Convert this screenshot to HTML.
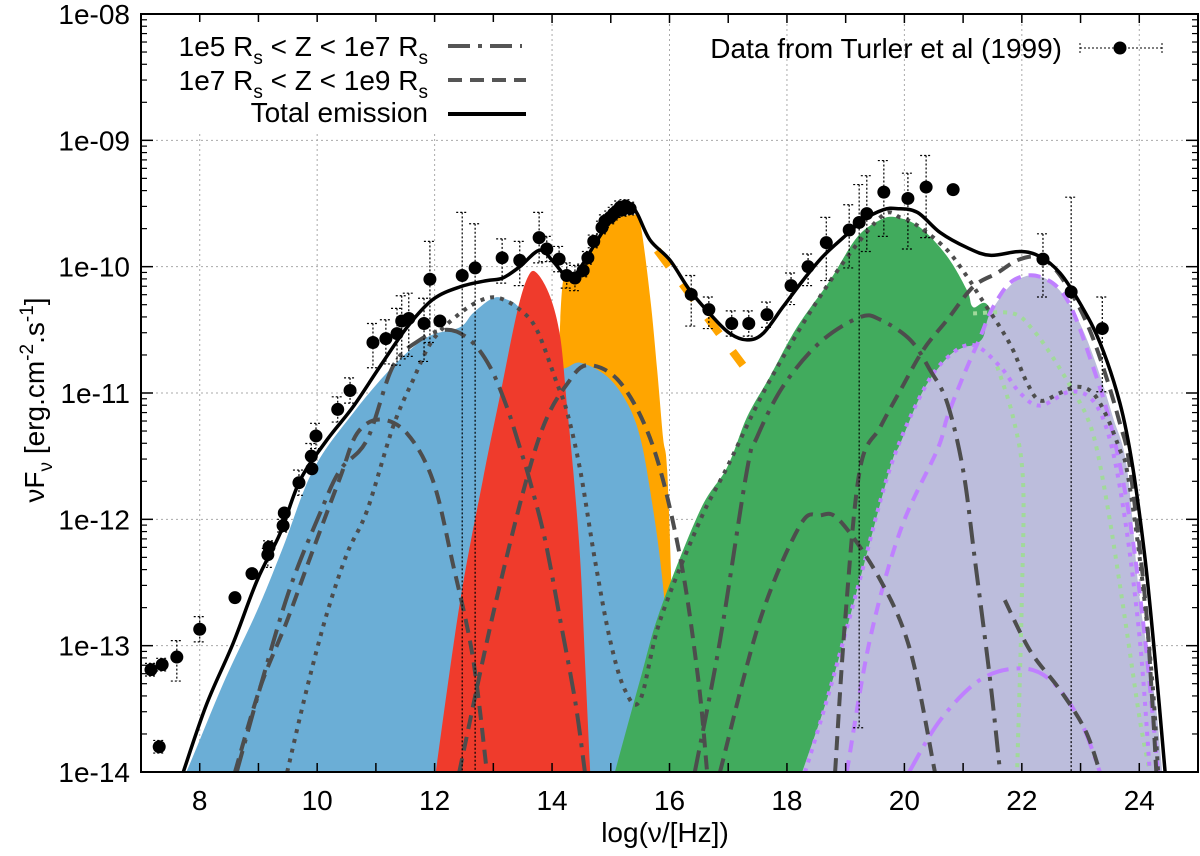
<!DOCTYPE html>
<html><head><meta charset="utf-8"><title>SED chart</title>
<style>
html,body{margin:0;padding:0;background:#fff;}
svg{display:block;font-family:"Liberation Sans",Arial,sans-serif;}
</style></head>
<body>
<svg id="chart" width="1200" height="856" viewBox="0 0 1200 856" xmlns="http://www.w3.org/2000/svg">
<defs><clipPath id="plotclip"><rect x="141" y="14" width="1057" height="758"/></clipPath></defs>
<g id="grid"></g>
<g id="plot" clip-path="url(#plotclip)"></g>
<g id="axes"></g>
<text x="665" y="842" font-size="28" text-anchor="middle">log(ν/[Hz])</text>
<text transform="translate(44,400) rotate(-90)" font-size="28" text-anchor="middle">νF<tspan font-size="19" dy="8">ν</tspan><tspan dy="-8"> [erg.cm</tspan><tspan font-size="19" dy="-11">-2</tspan><tspan dy="11">.s</tspan><tspan font-size="19" dy="-11">-1</tspan><tspan dy="11">]</tspan></text>
<g id="legend">
  <rect x="150" y="22" width="385" height="110" fill="#fff"/>
  <g>
    <text x="428" y="56" font-size="28" text-anchor="end">1e5 R<tspan font-size="19" dy="8">s</tspan><tspan dy="-8"> &lt; Z &lt; 1e7 R</tspan><tspan font-size="19" dy="8">s</tspan></text>
    <line x1="448" y1="46" x2="522" y2="46" stroke="#555" stroke-width="4" stroke-dasharray="22,8,4,8"/>
  </g>
  <g>
    <text x="428" y="90" font-size="28" text-anchor="end">1e7 R<tspan font-size="19" dy="8">s</tspan><tspan dy="-8"> &lt; Z &lt; 1e9 R</tspan><tspan font-size="19" dy="8">s</tspan></text>
    <line x1="448" y1="80" x2="526" y2="80" stroke="#555" stroke-width="4" stroke-dasharray="14,8"/>
  </g>
  <g>
    <text x="428" y="122" font-size="28" text-anchor="end">Total emission</text>
    <line x1="448" y1="114" x2="526" y2="114" stroke="#000" stroke-width="4"/>
  </g>
  <g>
    <text x="1062" y="58" font-size="28" text-anchor="end">Data from Turler et al (1999)</text>
    <line x1="1080" y1="48" x2="1162" y2="48" stroke="#000" stroke-width="1" stroke-dasharray="2,2"/>
    <line x1="1080" y1="43" x2="1080" y2="53" stroke="#000" stroke-width="1" stroke-dasharray="2,2"/>
    <line x1="1162" y1="43" x2="1162" y2="53" stroke="#000" stroke-width="1" stroke-dasharray="2,2"/>
    <circle cx="1120" cy="48" r="6.5" fill="#000"/>
  </g>
</g>
</svg>
<script>
// ---- data (x = log nu [Hz], y = log nuFnu) ----
const xTicks = [8,10,12,14,16,18,20,22,24];
const yTickLabels = ["1e-14","1e-13","1e-12","1e-11","1e-10","1e-09","1e-08"];
const yTickValues = [-14,-13,-12,-11,-10,-9,-8];

const obsX = [7.17,7.31,7.36,7.61,8.00,8.60,8.89,9.16,9.18,9.42,9.44,9.69,9.91,9.90,9.98,10.35,10.56,10.95,11.17,11.36,11.44,11.56,11.82,11.92,12.09,12.47,12.69,13.15,13.45,13.78,13.91,14.12,14.25,14.39,14.53,14.61,14.71,14.85,14.90,14.99,15.05,15.10,15.16,15.20,15.25,15.33,16.37,16.67,17.06,17.35,17.66,18.07,18.36,18.67,19.06,19.23,19.36,19.65,20.06,20.37,20.83,22.36,22.84,23.37];
const obsY = [-13.19,-13.80,-13.15,-13.09,-12.87,-12.62,-12.43,-12.28,-12.22,-12.05,-11.95,-11.71,-11.60,-11.50,-11.34,-11.13,-10.98,-10.60,-10.57,-10.53,-10.43,-10.41,-10.45,-10.10,-10.43,-10.07,-10.01,-9.93,-9.95,-9.77,-9.86,-9.94,-10.07,-10.09,-10.03,-9.93,-9.80,-9.69,-9.64,-9.61,-9.58,-9.56,-9.53,-9.55,-9.52,-9.54,-10.22,-10.34,-10.45,-10.45,-10.38,-10.15,-10.00,-9.81,-9.71,-9.65,-9.58,-9.41,-9.46,-9.37,-9.39,-9.94,-10.20,-10.49];
const obsErrUp = [0.05,0.05,0.05,0.13,0.1,0,0,0.05,0.05,0.05,0,0.1,0,0.1,0.1,0.1,0.1,0.15,0.15,0.2,0.2,0.2,0.2,0.3,0,0.5,0.35,0.15,0.15,0.2,0.1,0.1,0.1,0.1,0.05,0.05,0.05,0.05,0.05,0.05,0.05,0.05,0.05,0.05,0.05,0.05,0.15,0.1,0.1,0.1,0.1,0.1,0.1,0.2,0.2,0.3,0.3,0.25,0.2,0.25,0,0.2,0.75,0.25];
const obsErrDn = [0.05,0.05,0.05,0.19,0.1,0,0,0.1,0.05,0.05,0,0.1,0,0.1,0.1,0.1,0.1,0.2,0.2,0.25,0.3,0.3,0.3,0.5,0,4,4,0.2,0.2,0.2,0.1,0.1,0.1,0.1,0.05,0.05,0.05,0.05,0.05,0.05,0.05,0.05,0.05,0.05,0.05,0.05,0.25,0.15,0.1,0.1,0.1,0.15,0.15,0.3,0.3,4,0.3,0.35,0.4,0.4,0,0.3,4,0.5];

const totalX = [7.72,8.12,8.57,8.98,9.37,9.71,10.17,10.61,11.07,11.53,11.97,12.43,12.89,13.16,13.45,13.79,14.02,14.25,14.42,14.77,15.04,15.33,15.45,15.67,16.01,16.35,16.74,17.03,17.32,17.59,17.93,18.27,18.61,18.96,19.30,19.64,19.87,20.22,20.61,21.07,21.46,21.97,22.31,22.65,22.99,23.33,23.67,23.89,24.10,24.27,24.44];
const totalY = [-14.00,-13.46,-12.98,-12.48,-12.11,-11.69,-11.37,-11.11,-10.79,-10.48,-10.26,-10.16,-10.11,-10.09,-10.00,-9.87,-9.96,-10.08,-10.05,-9.79,-9.61,-9.53,-9.58,-9.79,-9.95,-10.19,-10.40,-10.53,-10.58,-10.53,-10.32,-10.11,-9.92,-9.77,-9.63,-9.55,-9.54,-9.57,-9.73,-9.85,-9.91,-9.88,-9.92,-10.05,-10.29,-10.60,-11.08,-11.59,-12.32,-13.11,-14.00];

const orangeX = [13.97,14.14,14.36,14.77,15.04,15.38,15.50,15.67,15.79,15.89,15.96,16.04,16.11];
const orangeY = [-14.00,-10.42,-10.11,-9.77,-9.63,-9.59,-9.65,-10.24,-10.82,-11.35,-11.61,-12.64,-14.00];
const blueX = [7.70,7.78,8.40,8.98,9.42,9.93,10.61,11.29,11.87,12.43,12.65,12.99,13.23,13.45,13.79,14.14,14.48,14.94,15.28,15.50,15.67,15.84,15.97,16.09];
const blueY = [-14.00,-13.99,-13.30,-12.72,-12.22,-11.61,-11.16,-10.79,-10.56,-10.48,-10.37,-10.25,-10.26,-10.33,-10.58,-10.80,-10.76,-10.87,-11.08,-11.35,-11.77,-12.32,-12.96,-14.00];
const redX = [12.02,12.43,12.82,13.11,13.40,13.59,13.74,13.97,14.14,14.25,14.36,14.48,14.56,14.65];
const redY = [-14.00,-12.66,-11.69,-11.03,-10.37,-10.08,-10.05,-10.24,-10.56,-11.08,-11.61,-12.32,-13.11,-14.00];
const greenX = [15.07,15.50,15.84,16.52,16.98,17.32,17.71,18.17,18.73,19.19,19.59,19.87,20.27,20.73,21.07,21.17,21.46,21.80,21.80];
const greenY = [-14.00,-13.27,-12.72,-11.93,-11.59,-11.19,-10.87,-10.48,-10.11,-9.77,-9.63,-9.61,-9.69,-9.92,-10.19,-10.32,-10.34,-11.06,-14.00];
const lavX = [18.26,18.73,19.24,19.76,19.93,20.32,20.73,21.00,21.17,21.34,21.46,21.85,22.26,22.65,22.99,23.28,23.55,23.79,24.01,24.27,24.39];
const lavY = [-14.00,-13.35,-12.48,-11.59,-11.40,-10.98,-10.72,-10.64,-10.62,-10.56,-10.37,-10.13,-10.07,-10.19,-10.45,-10.79,-11.19,-11.59,-12.64,-13.43,-14.00];

const dashAX = [8.60,9.03,9.49,9.93,10.39,10.68,11.07,11.53,11.97,12.31,12.65,12.89];
const dashAY = [-14.00,-13.33,-12.80,-12.24,-11.67,-11.32,-11.21,-11.32,-11.69,-12.35,-13.09,-14.00];
const dashBX = [12.42,13.05,13.76,14.30,14.66,15.20,15.74,16.19,16.49,16.64];
const dashBY = [-14.00,-12.64,-11.38,-10.90,-10.78,-10.94,-11.45,-12.32,-13.27,-14.00];
const dashCX = [16.86,17.54,18.22,18.56,18.90,19.59,20.10,20.52];
const dashCY = [-14.00,-12.80,-12.05,-11.97,-12.01,-12.48,-13.04,-14.00];
const dashDX = [18.82,18.99,19.24,19.59,19.93,20.32,20.73,21.17,21.58,21.92,22.26,22.53,22.82,23.11,23.38,23.67,23.84,24.10,24.22,24.29];
const dashDY = [-14.00,-12.80,-11.61,-11.27,-10.98,-10.66,-10.42,-10.16,-10.05,-9.95,-9.92,-10.00,-10.19,-10.45,-10.79,-11.24,-11.59,-12.64,-13.43,-14.00];
const dashEX = [21.71,22.14,22.65,23.08,23.33];
const dashEY = [-12.64,-13.04,-13.35,-13.67,-14.00];
const ddAX = [8.63,9.08,9.54,10.05,10.39,10.85,11.29,11.75,12.21,12.60,12.94,13.23,13.45,13.62,13.88,14.14,14.39,14.56];
const ddAY = [-14.00,-13.25,-12.54,-11.95,-11.61,-11.37,-10.79,-10.58,-10.50,-10.58,-10.79,-11.11,-11.43,-11.69,-12.16,-12.80,-13.43,-14.00];
const ddBX = [16.43,16.86,17.32,17.49,17.93,18.56,19.24,19.59,20.10,20.44,20.73,21.00,21.20,21.46,21.63];
const ddBY = [-14.00,-12.96,-11.61,-11.35,-10.95,-10.60,-10.40,-10.42,-10.58,-10.82,-11.08,-11.61,-12.32,-13.27,-14.00];
const dotAX = [9.49,9.83,10.17,10.51,10.85,11.29,11.63,11.97,12.43,12.82,13.11,13.45,13.74,14.08,14.25,14.48,14.73,14.99,15.24,15.50,15.84,16.52,16.98,17.71,18.73,19.59,19.93,20.27,20.73,21.07,21.29,21.63,21.85,22.09,22.31,22.65,22.94,23.21,23.45,23.67,23.79,24.01,24.22,24.32];
const dotAY = [-14.00,-13.33,-12.74,-12.27,-11.93,-11.27,-10.90,-10.58,-10.37,-10.26,-10.25,-10.34,-10.50,-10.92,-11.14,-11.61,-12.32,-12.96,-13.35,-13.43,-12.80,-12.01,-11.59,-10.90,-10.12,-9.61,-9.61,-9.69,-9.87,-10.08,-10.24,-10.48,-10.66,-10.92,-11.06,-11.00,-10.95,-11.00,-11.19,-11.45,-11.61,-12.32,-13.27,-14.00];
const purpDashX = [19.02,19.41,19.93,20.56,20.73,21.00,21.29,21.51,21.85,22.31,22.77,23.21,23.55,23.84,24.10,24.32];
const purpDashY = [-14.00,-12.96,-12.09,-11.45,-11.19,-10.87,-10.56,-10.32,-10.11,-10.08,-10.26,-10.79,-11.32,-12.01,-12.96,-14.00];
const purpDDX = [20.08,20.61,21.29,21.97,22.48,22.99,23.33];
const purpDDY = [-14.00,-13.59,-13.27,-13.18,-13.27,-13.59,-14.00];
const purpDotX = [18.31,18.73,19.24,19.76,20.32,20.73,21.17,21.63,21.97,22.31,22.82,23.21,23.50,23.76,24.01,24.18];
const purpDotY = [-14.00,-13.35,-12.48,-11.59,-10.98,-10.72,-10.62,-10.79,-11.00,-11.10,-10.99,-11.06,-11.37,-12.01,-12.96,-14.00];
const lg1X = [21.17,21.85,22.19,22.53,22.87,23.11,23.28,23.50,23.76,24.01,24.18];
const lg1Y = [-10.37,-10.37,-10.50,-10.72,-10.98,-11.19,-11.45,-12.01,-12.80,-13.59,-14.00];
const lg2X = [21.58,21.85,22.02,22.00,21.92];
const lg2Y = [-10.79,-11.19,-11.69,-12.64,-14.00];
const orangeDashX = [15.79,17.25];
const orangeDashY = [-9.87,-10.78];

// ---- axes ----
const X0 = 141, X1 = 1198, Y0 = 772, Y1 = 14;
function sx(v){ return X0 + (v - 7) / 18 * (X1 - X0); }
function sy(v){ return Y0 - (v + 14) / 6 * (Y0 - Y1); }
const NS = "http://www.w3.org/2000/svg";
function mk(tag, attrs, parent){
  const e = document.createElementNS(NS, tag);
  for (const k in attrs) e.setAttribute(k, attrs[k]);
  parent.appendChild(e);
  return e;
}
function smoothPath(xs, ys){
  const p = xs.map((x,i)=>[sx(x), sy(ys[i])]);
  let d = "M" + p[0][0].toFixed(1) + "," + p[0][1].toFixed(1);
  for (let i=0;i<p.length-1;i++){
    const p0 = p[i-1]||p[i], p1=p[i], p2=p[i+1], p3=p[i+2]||p[i+1];
    const c1x = p1[0]+(p2[0]-p0[0])/6, c1y = p1[1]+(p2[1]-p0[1])/6;
    const c2x = p2[0]-(p3[0]-p1[0])/6, c2y = p2[1]-(p3[1]-p1[1])/6;
    d += " C"+c1x.toFixed(1)+","+c1y.toFixed(1)+" "+c2x.toFixed(1)+","+c2y.toFixed(1)+" "+p2[0].toFixed(1)+","+p2[1].toFixed(1);
  }
  return d;
}
const grid = document.getElementById("grid");
const plot = document.getElementById("plot");
const axes = document.getElementById("axes");

xTicks.forEach(t=>{
  const g = mk("line",{x1:sx(t),x2:sx(t),y1:Y1,y2:Y0,stroke:"#aaa","stroke-width":1,"stroke-dasharray":"2,3"},grid);
  
  
});
yTickValues.forEach(t=>{
  const g = mk("line",{x1:X0,x2:X1,y1:sy(t),y2:sy(t),stroke:"#aaa","stroke-width":1,"stroke-dasharray":"2,3"},grid);
  
  
});

function fill(xs, ys, color, name){
  const e = mk("path",{d:smoothPath(xs,ys)+" Z",fill:color,stroke:"none"},plot);
  
  
}
fill(orangeX, orangeY, "#ffa500", "orange-component-area");
fill(blueX, blueY, "#6baed6", "blue-synchrotron-area");
fill(redX, redY, "#ef3b2c", "red-component-area");
fill(greenX, greenY, "#41ab5d", "green-compton-area");
fill(lavX, lavY, "#bcbddc", "lavender-compton-area");

function curve(xs, ys, color, w, dash, name){
  const a = {d:smoothPath(xs,ys),fill:"none",stroke:color,"stroke-width":w};
  if (dash) a["stroke-dasharray"] = dash;
  const e = mk("path",a,plot);
  
  
}
const GREY = "#4d4d4d";
curve(lg1X, lg1Y, "#a1d99b", 4, "4,6", "light-green-dotted-curve");
curve(lg2X, lg2Y, "#a1d99b", 4, "4,6", "light-green-dotted-curve-2");
curve(purpDotX, purpDotY, "#bf80ff", 4, "4,6", "purple-dotted-curve");
curve(purpDashX, purpDashY, "#bf80ff", 4, "12,8", "purple-dashed-curve");
curve(purpDDX, purpDDY, "#bf80ff", 4, "22,8,4,8", "purple-dashdot-curve");
curve(dashAX, dashAY, GREY, 4, "14,8", "outer-zone-synchrotron-1");
curve(dashBX, dashBY, GREY, 4, "14,8", "outer-zone-synchrotron-2");
curve(dashCX, dashCY, GREY, 4, "14,8", "outer-zone-compton-1");
curve(dashDX, dashDY, GREY, 4, "14,8", "outer-zone-compton-2");
curve(dashEX, dashEY, GREY, 4, "14,8", "outer-zone-compton-3");
curve(ddAX, ddAY, GREY, 4, "22,8,4,8", "inner-zone-synchrotron");
curve(ddBX, ddBY, GREY, 4, "22,8,4,8", "inner-zone-compton");
curve(dotAX, dotAY, GREY, 4, "4,6", "dotted-sum-curve");
curve(orangeDashX, orangeDashY, "#ffa500", 8, "20,22", "orange-dashed-line");
curve(totalX, totalY, "#000", 3.5, null, "total-emission-curve");

// error bars and points
obsX.forEach((x,i)=>{
  const cx = sx(x), cy = sy(obsY[i]);
  const up = obsErrUp[i], dn = obsErrDn[i];
  if (up > 0 || dn > 0){
    const yt = sy(obsY[i]+up), yb = sy(obsY[i]-dn);
    const e = mk("line",{x1:cx,x2:cx,y1:yt,y2:yb,stroke:"#000","stroke-width":1.2,"stroke-dasharray":"2,2"},plot);
    
    
    [yt,yb].forEach(yy=>{
      const c = mk("line",{x1:cx-6,x2:cx+6,y1:yy,y2:yy,stroke:"#000","stroke-width":1.2,"stroke-dasharray":"2,2"},plot);
      
      
    });
  }
});
obsX.forEach((x,i)=>{
  const p = mk("circle",{cx:sx(x),cy:sy(obsY[i]),r:6.5,fill:"#000"},plot);
  
  
});

// frame, ticks, labels
const fr = mk("rect",{x:X0,y:Y1,width:X1-X0,height:Y0-Y1,fill:"none",stroke:"#000","stroke-width":2},axes);


for (let v=7; v<=25; v++){
  const t1 = mk("line",{x1:sx(v),x2:sx(v),y1:Y0,y2:Y0-9,stroke:"#000","stroke-width":1.5},axes);
  
  
  const t2 = mk("line",{x1:sx(v),x2:sx(v),y1:Y1,y2:Y1+9,stroke:"#000","stroke-width":1.5},axes);
  
  
}
xTicks.forEach(t=>{
  const l = mk("text",{x:sx(t),y:810,"font-size":28,"text-anchor":"middle"},axes);
  l.textContent = t;
  
  
});
yTickValues.forEach((t,i)=>{
  const l = mk("text",{x:130,y:sy(t)+10,"font-size":28,"text-anchor":"end"},axes);
  l.textContent = yTickLabels[i];
  
  
  [[X0,X0+12],[X1,X1-12]].forEach(s=>{
    const tk = mk("line",{x1:s[0],x2:s[1],y1:sy(t),y2:sy(t),stroke:"#000","stroke-width":1.5},axes);
    
    
  });
  if (t < -8){
    for (let m=2;m<=9;m++){
      const yy = sy(t + Math.log10(m));
      [[X0,X0+6],[X1,X1-6]].forEach(s=>{
        const mt = mk("line",{x1:s[0],x2:s[1],y1:yy,y2:yy,stroke:"#000","stroke-width":1.2},axes);
        
        
      });
    }
  }
});
</script>
</body></html>
